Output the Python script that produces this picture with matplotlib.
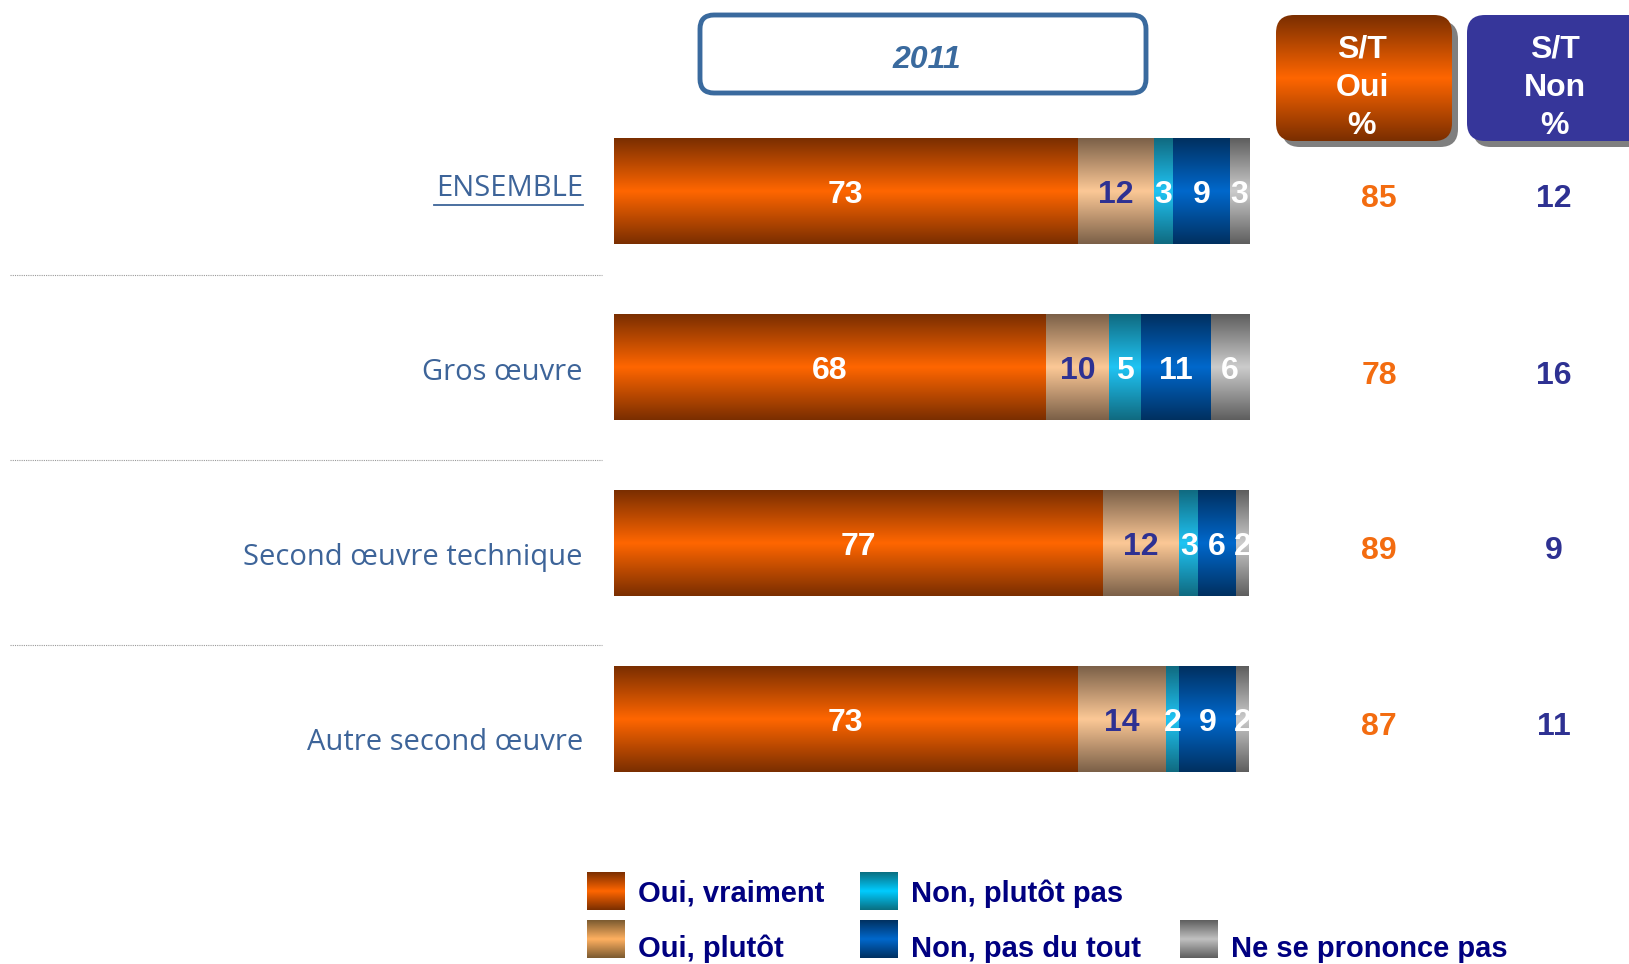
import numpy as np
import matplotlib
matplotlib.use("Agg")
import matplotlib.pyplot as plt
from matplotlib.patches import FancyBboxPatch, Rectangle
from matplotlib.colors import LinearSegmentedColormap

# données
rows = ["ENSEMBLE", "Gros œuvre", "Second œuvre technique", "Autre second œuvre"]
series = ["Oui, vraiment", "Oui, plutôt", "Non, plutôt pas", "Non, pas du tout", "Ne se prononce pas"]
oui_vraiment = [73, 68, 77, 73]
oui_plutot = [12, 10, 12, 14]
non_plutot_pas = [3, 5, 3, 2]
non_pas_du_tout = [9, 11, 6, 9]
nsp = [3, 6, 2, 2]
st_oui = [85, 78, 89, 87]
st_non = [12, 16, 9, 11]
annee = "2011"

values = [oui_vraiment, oui_plutot, non_plutot_pas, non_pas_du_tout, nsp]
# (bord, centre) pour chaque dégradé
grad = [("#7a2e00", "#ff6600"), ("#7b6048", "#fcc896"), ("#106a80", "#20c4f4"),
        ("#003060", "#0068cc"), ("#5e5e5e", "#cccccc")]
txtcol = ["white", "#2e3192", "white", "white", "white"]

W, H = 1629, 964
fig = plt.figure(figsize=(W / 100, H / 100), dpi=100)
ov = fig.add_axes([0, 0, 1, 1])
ov.set_xlim(0, W)
ov.set_ylim(H, 0)
ov.axis("off")


def vgrad(c_edge, c_mid, n=256):
    cmap = LinearSegmentedColormap.from_list("g", [c_edge, c_mid, c_edge])
    t = np.linspace(0, 1, n).reshape(-1, 1)
    return cmap(t)


def fill_grad(ax, patch, c_edge, c_mid, extent):
    img = ax.imshow(vgrad(c_edge, c_mid), extent=extent, aspect="auto",
                    interpolation="bilinear", zorder=patch.get_zorder())
    img.set_clip_path(patch)


# axes des barres (en pixels : x 614-1249, y 103-807)
bx0, bx1, by0, by1 = 614, 1249, 103, 807
ax = fig.add_axes([bx0 / W, 1 - by1 / H, (bx1 - bx0) / W, (by1 - by0) / H])
ax.set_xlim(0, 100)
ax.set_ylim(3.5, -0.5)
ax.axis("off")

y = np.arange(len(rows))
left = np.zeros(len(rows))
for i, vals in enumerate(values):
    bars = ax.barh(y, vals, left=left, height=0.6, color="none", edgecolor="none", zorder=2)
    for b, v in zip(bars, vals):
        x0, yb = b.get_x(), b.get_y()
        fill_grad(ax, b, grad[i][0], grad[i][1], (x0, x0 + b.get_width(), yb + b.get_height(), yb))
        ax.text(x0 + b.get_width() / 2, yb + b.get_height() / 2 + 0.02, str(v), ha="center",
                va="center", color=txtcol[i], fontsize=23, fontweight="bold",
                family="Liberation Sans", zorder=5)
    left += np.array(vals)
ax.set_xlim(0, 100)
ax.set_ylim(3.5, -0.5)

# libellés des lignes
row_y = [191, 368, 543, 719]
label_y = [189, 373, 558, 743]
for r, ly in zip(rows, label_y):
    ov.text(583, ly, r, ha="right", va="center", fontsize=21, color="#3d6499",
            family="Open Sans")
    if r == "ENSEMBLE":
        ov.plot([434, 583], [ly + 16, ly + 16], color="#3d6499", lw=1.3)

# séparateurs pointillés
for sy in [275, 460, 645]:
    ov.plot([10, 602], [sy, sy], color="#9a9a9a", lw=0.8, ls=(0, (1, 1)))

# S/T
for ry, so, sn in zip(row_y, st_oui, st_non):
    ov.text(1379, ry + 8, str(so), ha="center", va="center", fontsize=23, fontweight="bold",
            color="#f36c10", family="Liberation Sans")
    ov.text(1554, ry + 8, str(sn), ha="center", va="center", fontsize=23, fontweight="bold",
            color="#2e3192", family="Liberation Sans")

# cadre 2011
ov.add_patch(FancyBboxPatch((700, 15), 446, 78, boxstyle="round,pad=0,rounding_size=14",
                            fc="white", ec="#3a6a9e", lw=3.5))
ov.text(927, 60, annee, ha="center", va="center", fontsize=23, fontweight="bold", style="italic",
        color="#3a6a9e", family="Liberation Sans")

# en-têtes S/T Oui / S/T Non
for bx, bw, lab in [(1276, 176, "S/T\nOui\n%"), (1467, 180, "S/T\nNon\n%")]:
    ov.add_patch(FancyBboxPatch((bx + 6, 21), bw, 126, boxstyle="round,pad=0,rounding_size=18",
                                fc="#7f7f7f", ec="none", zorder=1))
    p = FancyBboxPatch((bx, 15), bw, 126, boxstyle="round,pad=0,rounding_size=18",
                       fc="#36369a" if "Non" in lab else "none", ec="none", zorder=2)
    ov.add_patch(p)
    if "Oui" in lab:
        fill_grad(ov, p, "#7a2e00", "#ff6600", (bx, bx + bw, 141, 15))
    for k, line in enumerate(lab.split("\n")):
        ov.text(bx + 88 - (2 if "Oui" in lab else 0), 50 + 38 * k, line, ha="center", va="center",
                fontsize=23, fontweight="bold", color="white", family="Liberation Sans", zorder=4)

# légende
leg_pos = [(587, 891), (587, 939), (860, 891), (860, 939), (1180, 939)]
leg_text_y = [894, 949, 894, 949, 949]
leg_grad = [("#7a2e00", "#ff6600"), ("#7b5a30", "#ffb060"), ("#0a6e80", "#00ccff"),
            ("#003060", "#0068cc"), ("#5e5e5e", "#c0c0c0")]
for (lx, ly), ty, name, g in zip(leg_pos, leg_text_y, series, leg_grad):
    sq = Rectangle((lx, ly - 19), 38, 38, fc="none", ec="none", zorder=2)
    ov.add_patch(sq)
    fill_grad(ov, sq, g[0], g[1], (lx, lx + 38, ly + 19, ly - 19))
    ov.text(lx + 51, ty, name, ha="left", va="center", fontsize=21, fontweight="bold",
            color="#000080", family="Liberation Sans")

ov.set_xlim(0, W)
ov.set_ylim(H, 0)
fig.savefig("out.png", dpi=100)
